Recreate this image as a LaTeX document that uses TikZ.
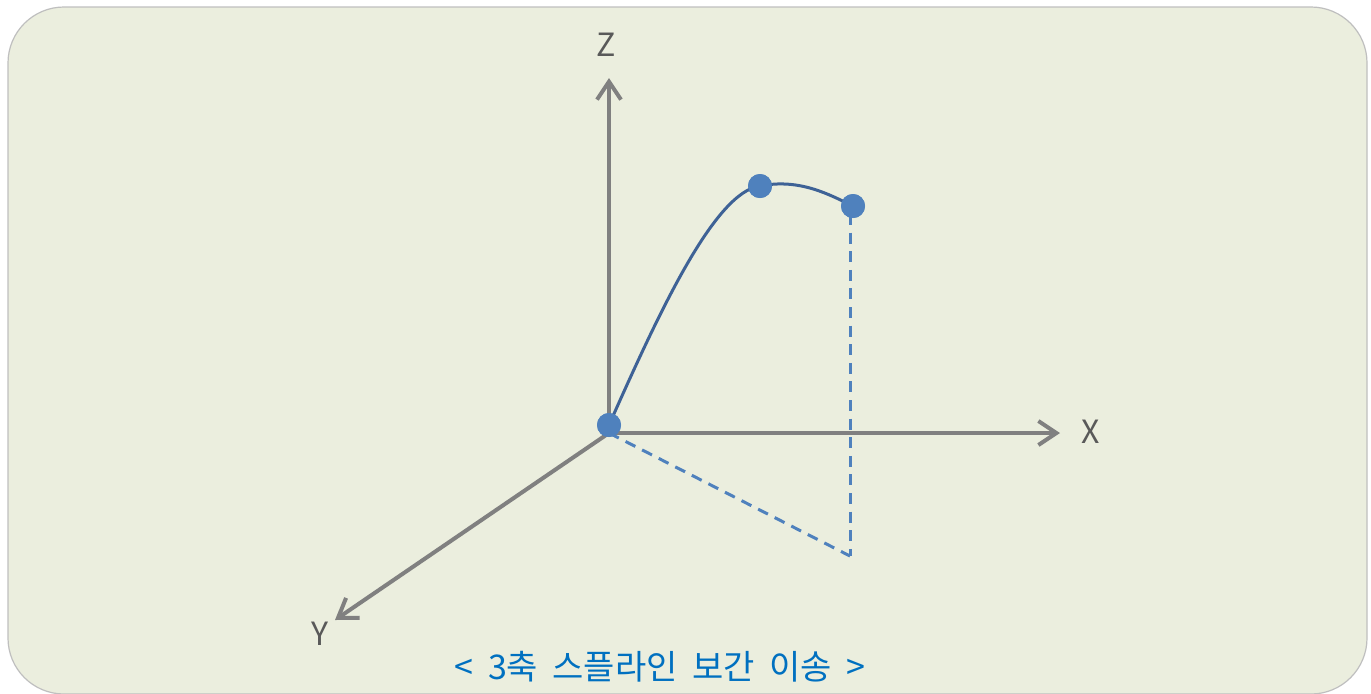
\documentclass[tikz,border=0pt]{standalone}
\usepackage{fontspec}
\newfontfamily\kr{Noto Sans CJK KR}
\newfontfamily\krcap[WordSpace=1.9]{Noto Sans CJK KR}
\usetikzlibrary{arrows.meta}
\definecolor{panel}{RGB}{235,238,222}
\definecolor{axisgray}{RGB}{128,128,128}
\definecolor{labgray}{RGB}{89,89,89}
\definecolor{dotblue}{RGB}{79,129,189}
\definecolor{curveblue}{RGB}{62,98,150}
\definecolor{capblue}{RGB}{0,112,192}
\begin{document}
\begin{tikzpicture}[x=0.5pt,y=-0.5pt,
  axis/.style={draw=axisgray,line width=2pt,-{Straight Barb[length=9pt,width=12pt,line width=2pt]}},
  axlab/.style={text=labgray,font=\kr\fontsize{16}{18}\selectfont,inner sep=0pt},
  knot/.style={circle,fill=dotblue,minimum size=12pt,inner sep=0pt},
  proj/.style={draw=dotblue,line width=1.5pt,dash pattern=on 5.5pt off 3.8pt}]%
\useasboundingbox (0,0) rectangle (1371,693);
\fill[white] (0,0) rectangle (1371,693);
\draw[fill=panel,draw=black!25,line width=0.6pt,rounded corners=28pt] (8,7) rectangle (1367,694);
% axes
\coordinate (ax) at (609,433);
\coordinate (zend) at (609,78);
\coordinate (xend) at (1060,433);
\coordinate (yend) at (335,620);
\coordinate (foot) at (850,556);
\draw[axis] (ax) -- (zend);
\draw[axis] (ax) -- (xend);
\draw[axis] (ax) -- (yend);
\node[axlab] (zlab) at (606,45) {Z};
\node[axlab] (xlab) at (1091,432) {X};
\node[axlab] (ylab) at (320,634) {Y};
% projection lines
\draw[proj] (ax) -- (foot);
\draw[proj] (foot |- 0,214) -- (foot);
% spline
\node[knot] (o) at (609,425) {};
\node[knot] (p1) at (760,186) {};
\node[knot] (p2) at (853,206) {};
\draw[curveblue,line width=1.5pt] (o.center)
 .. controls (660,310) and (715,192) .. (p1.center)
 .. controls (800,178) and (830,195) .. (p2.center);
\node[knot] at (o) {};
\node[knot] at (p1) {};
\node[knot] at (p2) {};
\node[text=capblue,font=\krcap\fontsize{17}{20}\selectfont] (cap) at (660,667) {< 3축 스플라인 보간 이송 >};
\end{tikzpicture}
\end{document}
